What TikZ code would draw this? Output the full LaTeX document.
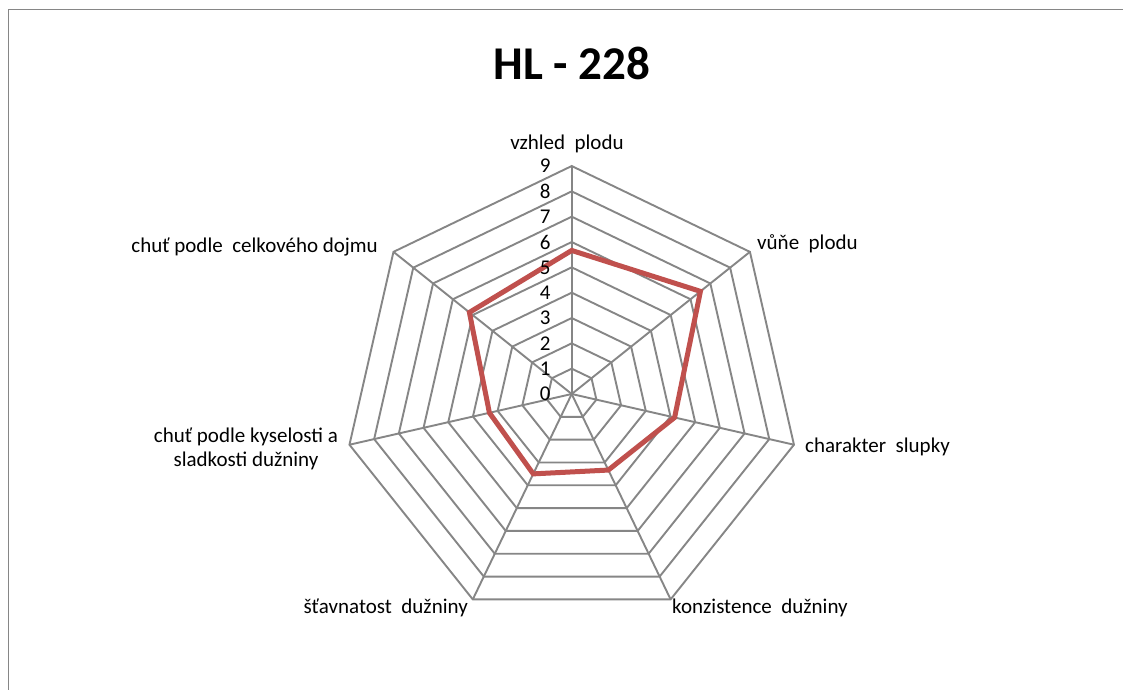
\documentclass[tikz,border=0pt]{standalone}
\usepackage{fontspec}
\setmainfont{Carlito}
\definecolor{gridgray}{HTML}{868686}
\definecolor{serred}{HTML}{C0504D}
\begin{document}
\begin{tikzpicture}[x=1pt,y=1pt,
  gridline/.style={draw=gridgray, line width=1.9pt, line join=miter},
  series/.style={draw=serred, line width=5pt, line join=miter},
  axlabel/.style={font=\fontsize{21}{24}\selectfont, inner sep=0pt},
  ticklabel/.style={font=\fontsize{21}{24}\selectfont, inner sep=0pt, anchor=east},
  titlestyle/.style={font=\fontsize{47}{56}\selectfont\bfseries, inner sep=0pt, anchor=base}]
\useasboundingbox (0,0) rectangle (1123,689);
\clip (0,0) rectangle (1123,689);
\fill[white] (0,0) rectangle (1123,689);
\draw[gridgray, line width=1.8pt] (8.5,-20) -- (8.5,679.5) -- (1140,679.5);
\node[titlestyle] (title) at (572,609) {HL - 228};
\begin{scope}[shift={(571.7,295)}]
  \coordinate (c) at (0,0);
  \foreach \r in {1,...,9}
    \draw[gridline] (90:{\r*25.33}) \foreach \k in {1,...,6} { -- ({90-\k*360/7}:{\r*25.33}) } -- cycle;
  \foreach \k in {0,...,6}
    \draw[gridline] (c) -- ({90-\k*360/7}:228) coordinate (ax\k);
  \foreach \v [count=\k from 0] in {5.667,6.5,4.167,3.333,3.5,3.333,5.167}
    \coordinate (p\k) at ({90-\k*360/7}:{\v*25.33});
  \draw[series] (p0) -- (p1) -- (p2) -- (p3) -- (p4) -- (p5) -- (p6) -- cycle;
  \foreach \r in {0,...,9}
    \node[ticklabel] (t\r) at (-21,{\r*25.33}) {\r};
\end{scope}
\node[axlabel, anchor=base] (l0) at (567,539) {vzhled~~plodu};
\node[axlabel, anchor=base west] (l1) at (757,439) {vůňe~~plodu};
\node[axlabel, anchor=base west] (l2) at (805,237) {charakter~~slupky};
\node[axlabel, anchor=base west] (l3) at (672,76) {konzistence~~dužniny};
\node[axlabel, anchor=base east] (l4) at (468,76) {šťavnatost~~dužniny};
\node[axlabel, align=center, anchor=center] (l5) at (246,240) {chuť podle kyselosti a\\sladkosti dužniny};
\node[axlabel, anchor=base east] (l6) at (378,436) {chuť podle~~celkového dojmu};
\end{tikzpicture}
\end{document}
